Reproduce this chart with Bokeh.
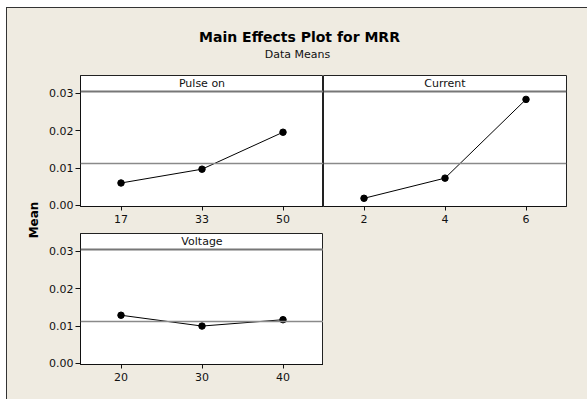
import math
from bokeh.plotting import figure
from bokeh.models import (Range1d, FactorRange, FixedTicker, Span, Label,
                          PrintfTickFormatter)
from bokeh.layouts import column, row
from bokeh.embed import file_html
from bokeh.resources import INLINE

# ---------------- data ----------------
TITLE = "Main Effects Plot for MRR"
SUBTITLE = "Data Means"
Y_LABEL = "Mean"

pulse_name = "Pulse on"
pulse_levels = ["17", "33", "50"]
pulse_means = [0.0060, 0.0097, 0.0196]

current_name = "Current"
current_levels = ["2", "4", "6"]
current_means = [0.0019, 0.0073, 0.0284]

voltage_name = "Voltage"
voltage_levels = ["20", "30", "40"]
voltage_means = [0.0129, 0.0100, 0.0117]

grand_mean = 0.0112
y_ticks = [0.0, 0.01, 0.02, 0.03]

# ---------------- style ----------------
BG = "#EFEBE1"
FONT = "DejaVu Sans"
Y_START, Y_END = -0.0003, 0.0348
HEADER_BOTTOM = 0.0305


def panel(name, levels, means, width, height, left, right, bottom, show_y):
    p = figure(width=width, height=height,
               x_range=FactorRange(factors=levels),
               y_range=Range1d(Y_START, Y_END),
               output_backend="svg", toolbar_location=None, title=None,
               min_border_left=left, min_border_right=right,
               min_border_top=0, min_border_bottom=bottom,
               background_fill_color="white", border_fill_color=BG,
               outline_line_color="#222222", outline_line_width=1,
               y_axis_location="left" if show_y else None)
    p.grid.visible = False

    for ax in p.xaxis:
        ax.major_tick_out = 4
        ax.major_tick_in = 0
        ax.minor_tick_out = 0
        ax.axis_line_color = "#111111"
        ax.major_tick_line_color = "#111111"
        ax.major_label_text_font = FONT
        ax.major_label_text_font_size = "11px"
        ax.major_label_text_color = "#111111"
        ax.major_label_standoff = 4
    for ax in p.yaxis:
        ax.ticker = FixedTicker(ticks=y_ticks)
        ax.formatter = PrintfTickFormatter(format="%.2f")
        ax.major_tick_out = 5
        ax.major_tick_in = 0
        ax.minor_tick_out = 0
        ax.minor_tick_in = 0
        ax.axis_line_color = "#111111"
        ax.major_tick_line_color = "#111111"
        ax.major_label_text_font = FONT
        ax.major_label_text_font_size = "11px"
        ax.major_label_text_color = "#111111"
        ax.major_label_standoff = 2

    # header strip line and name (x is the categorical centre of the panel)
    p.add_layout(Span(location=HEADER_BOTTOM, dimension="width",
                      line_color="#777777", line_width=2))
    p.add_layout(Label(x=len(levels) / 2, y=(HEADER_BOTTOM + Y_END) / 2,
                       text=name, text_align="center", text_baseline="middle",
                       text_font=FONT, text_font_size="11px",
                       text_color="#111111"))
    # reference (grand mean) line
    p.add_layout(Span(location=grand_mean, dimension="width",
                      line_color="#8a8a8a", line_width=1.5))

    p.line(x=levels, y=means, line_color="black", line_width=1)
    p.scatter(x=levels, y=means, size=6.5, fill_color="black",
              line_color="black")
    return p


# title area
title_fig = figure(width=580, height=67, x_range=Range1d(0, 580),
                   y_range=Range1d(0, 67), output_backend="svg",
                   toolbar_location=None, title=None,
                   x_axis_location=None, y_axis_location=None,
                   min_border=0, background_fill_color=BG,
                   border_fill_color=BG, outline_line_color=None)
title_fig.grid.visible = False
title_fig.add_layout(Label(x=292, y=39, text=TITLE, text_align="center",
                           text_baseline="middle", text_font=FONT,
                           text_font_size="14px", text_font_style="bold",
                           text_color="black"))
title_fig.add_layout(Label(x=290, y=21.5, text=SUBTITLE, text_align="center",
                           text_baseline="middle", text_font=FONT,
                           text_font_size="11px", text_color="#111111"))

# y label strip
mean_fig = figure(width=36, height=324, x_range=Range1d(0, 36),
                  y_range=Range1d(0, 324), output_backend="svg",
                  toolbar_location=None, title=None,
                  x_axis_location=None, y_axis_location=None,
                  min_border=0, background_fill_color=BG,
                  border_fill_color=BG, outline_line_color=None)
mean_fig.grid.visible = False
mean_fig.add_layout(Label(x=26.5, y=179.5, text=Y_LABEL, angle=math.pi / 2,
                          text_align="center", text_baseline="middle",
                          text_font=FONT, text_font_size="12px",
                          text_font_style="bold", text_color="black"))

p1 = panel(pulse_name, pulse_levels, pulse_means, 280, 158, 37, 0, 27, True)
p2 = panel(current_name, current_levels, current_means, 264, 158, 0, 21, 27, False)
p3 = panel(voltage_name, voltage_levels, voltage_means, 280, 166, 37, 0, 35, True)

root = column(
    title_fig,
    row(mean_fig, column(row(p1, p2), p3)),
    styles={"background-color": BG, "margin-left": "6px", "margin-top": "7px",
            "border-left": "1px solid #333333",
            "border-top": "1px solid #333333"},
)

open("out.html", "w").write(file_html(root, INLINE, title="Main Effects Plot for MRR"))
